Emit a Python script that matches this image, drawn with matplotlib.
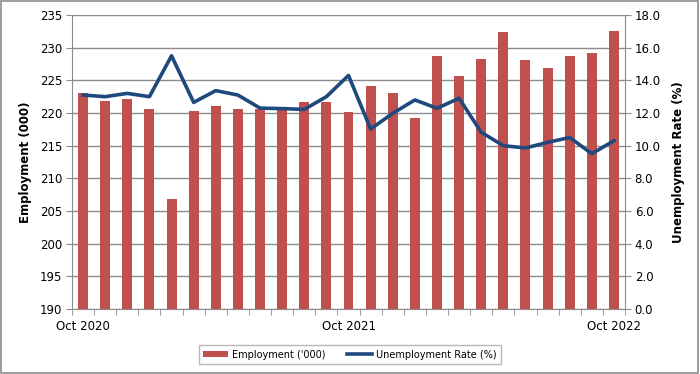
import matplotlib
matplotlib.use("Agg")
import matplotlib.pyplot as plt
from matplotlib.patches import Rectangle
import numpy as np

months = ["Oct 2020", "Nov 2020", "Dec 2020", "Jan 2021", "Feb 2021", "Mar 2021", "Apr 2021",
          "May 2021", "Jun 2021", "Jul 2021", "Aug 2021", "Sep 2021", "Oct 2021", "Nov 2021",
          "Dec 2021", "Jan 2022", "Feb 2022", "Mar 2022", "Apr 2022", "May 2022", "Jun 2022",
          "Jul 2022", "Aug 2022", "Sep 2022", "Oct 2022"]
employment = [223.0, 221.9, 222.2, 220.6, 206.9, 220.3, 221.1, 220.6, 220.6, 220.6, 221.7, 221.7,
              220.1, 224.2, 223.0, 219.2, 228.7, 225.7, 228.2, 232.4, 228.1, 226.9, 228.7, 229.2, 232.6]
unemployment = [13.1, 13.0, 13.2, 13.0, 15.5, 12.65, 13.37, 13.1, 12.3, 12.27, 12.22, 13.0,
                14.3, 11.02, 11.98, 12.8, 12.29, 12.9, 10.82, 10.0, 9.86, 10.2, 10.5, 9.51, 10.3]
shown_labels = {0: "Oct 2020", 12: "Oct 2021", 24: "Oct 2022"}

bar_color = "#C0504D"
line_color = "#1F497D"
grid_color = "#8C8C8C"

fig = plt.figure(figsize=(7.0, 3.74), dpi=100)
ax = fig.add_axes([72/700, 1-309/374, (625-72)/700, (309-15)/374])
x = np.arange(len(months))
bars = ax.bar(x, employment, width=0.45, color=bar_color, zorder=2, label="Employment ('000)")
ax.set_ylim(190, 235)
ax.set_xlim(-0.5, len(months)-0.5)
ax.set_yticks(np.arange(190, 236, 5))
ax.tick_params(axis='y', labelsize=8.5, length=4, color=grid_color, pad=3)
ax.grid(axis='y', color=grid_color, linewidth=1, zorder=0)
ax.set_axisbelow(True)
ax.set_xticks(x)
ax.set_xticklabels([shown_labels.get(i, "") for i in x], fontsize=8.5)
ax.tick_params(axis='x', length=0, pad=8)
ax.set_xticks(np.arange(-0.5, len(months), 1), minor=True)
ax.tick_params(axis='x', which='minor', length=4, color=grid_color, direction='out')
for s in ["top", "right"]:
    ax.spines[s].set_visible(False)
for s in ["left", "bottom"]:
    ax.spines[s].set_color(grid_color)
ax.set_ylabel("Employment (000)", fontsize=8.5, fontweight='bold', labelpad=6)

ax2 = ax.twinx()
line, = ax2.plot(x, unemployment, color=line_color, linewidth=2.6, zorder=3, label="Unemployment Rate (%)")
ax2.set_ylim(0, 18)
ax2.set_yticks(np.arange(0, 18.1, 2))
ax2.set_yticklabels([f"{v:.1f}" for v in np.arange(0, 18.1, 2)])
ax2.tick_params(axis='y', labelsize=8.5, length=4, color=grid_color, pad=3)
for s in ["top", "left", "bottom"]:
    ax2.spines[s].set_visible(False)
ax2.spines["right"].set_color(grid_color)
ax2.set_ylabel("Unemployment Rate (%)", fontsize=8.5, fontweight='bold', rotation=90, labelpad=8)

leg = fig.legend([bars, line], ["Employment ('000)", "Unemployment Rate (%)"],
                 loc='center', bbox_to_anchor=(350/700, 1-354.5/374), ncol=2, fontsize=7,
                 frameon=True, fancybox=False, edgecolor="#A6A6A6", handlelength=2.6,
                 columnspacing=2.2, borderpad=0.45, handleheight=0.5, handletextpad=0.4)
leg.get_frame().set_linewidth(1)

fig.patches.append(Rectangle((0.002, 0.003), 0.995, 0.993, transform=fig.transFigure,
                             fill=False, edgecolor="#8C8C8C", linewidth=1.2))
fig.savefig("out.png", dpi=100)
